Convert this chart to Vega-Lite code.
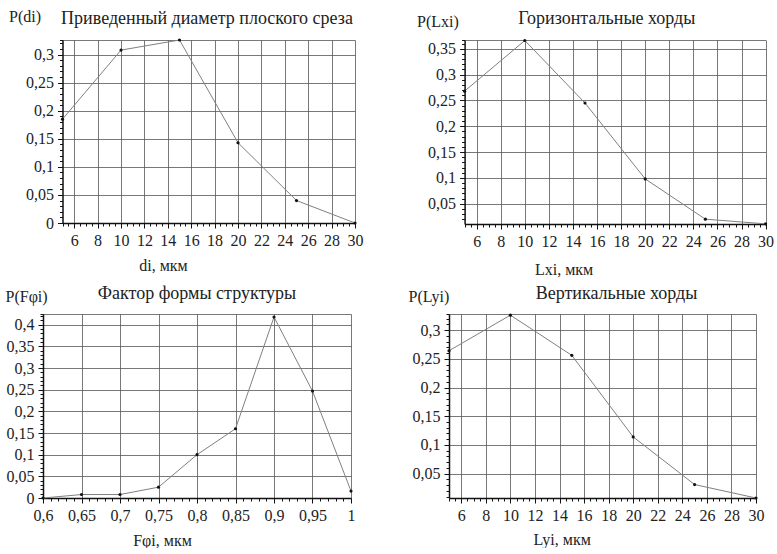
{
  "$schema": "https://vega.github.io/schema/vega-lite/v6.json",
  "background": "white",
  "padding": {"left": 5, "top": 8, "right": 0, "bottom": 0},
  "columns": 2,
  "align": "none",
  "spacing": {"row": 8, "column": 45},
  "datasets": {
    "d1": [{"x": 5, "p": 0.185}, {"x": 10, "p": 0.308}, {"x": 15, "p": 0.326}, {"x": 20, "p": 0.143}, {"x": 25, "p": 0.04}, {"x": 30, "p": 0}],
    "d2": [{"x": 5, "p": 0.268}, {"x": 10, "p": 0.366}, {"x": 15, "p": 0.245}, {"x": 20, "p": 0.098}, {"x": 25, "p": 0.02}, {"x": 30, "p": 0.011}],
    "d3": [{"x": 0.6, "p": 0}, {"x": 0.65, "p": 0.008}, {"x": 0.7, "p": 0.008}, {"x": 0.75, "p": 0.025}, {"x": 0.8, "p": 0.1}, {"x": 0.85, "p": 0.16}, {"x": 0.9, "p": 0.418}, {"x": 0.95, "p": 0.247}, {"x": 1, "p": 0.016}],
    "d4": [{"x": 5, "p": 0.264}, {"x": 10, "p": 0.326}, {"x": 15, "p": 0.256}, {"x": 20, "p": 0.114}, {"x": 25, "p": 0.031}, {"x": 30, "p": 0.0076}]
  },
  "concat": [
    {
      "width": 312, "height": 183,
      "data": {"name": "d1"},
      "title": {"text": "Приведенный диаметр плоского среза", "frame": "group", "offset": -20, "dx": 8},
      "encoding": {
        "x": {"field": "x", "type": "quantitative", "scale": {"domain": [5, 30], "range": [19.5, 312], "nice": false, "zero": false},
          "axis": {"title": "di, мкм", "titleX": 120, "titleY": 47, "titleBaseline": "alphabetic",
            "values": [5,5.5,6,6.5,7,7.5,8,8.5,9,9.5,10,10.5,11,11.5,12,12.5,13,13.5,14,14.5,15,15.5,16,16.5,17,17.5,18,18.5,19,19.5,20,20.5,21,21.5,22,22.5,23,23.5,24,24.5,25,25.5,26,26.5,27,27.5,28,28.5,29,29.5,30],
            "labelExpr": "datum.value % 2 == 0 ? format(datum.value, 'd') : ''",
            "gridOpacity": {"condition": {"test": "datum.value % 2 == 0", "value": 1}, "value": 0},
            "tickSize": {"condition": {"test": "datum.value % 2 == 0", "value": 5}, "value": 3}}},
        "y": {"field": "p", "type": "quantitative", "scale": {"domain": [0, 0.326], "nice": false, "zero": false},
          "axis": {"offset": -19.5, "title": "P(di)", "titleAngle": 0, "titleAlign": "left", "titleBaseline": "alphabetic", "titleX": -54, "titleY": -19,
            "values": [0,0.01,0.02,0.03,0.04,0.05,0.06,0.07,0.08,0.09,0.1,0.11,0.12,0.13,0.14,0.15,0.16,0.17,0.18,0.19,0.2,0.21,0.22,0.23,0.24,0.25,0.26,0.27,0.28,0.29,0.3,0.31,0.32,0.326],
            "labelExpr": "abs(datum.value*20 - round(datum.value*20)) < 0.001 ? replace(format(datum.value, '.2~f'), '.', ',') : ''",
            "gridOpacity": {"condition": {"test": "abs(datum.value*20 - round(datum.value*20)) < 0.001 || datum.value >= 0.326", "value": 1}, "value": 0},
            "tickSize": {"condition": {"test": "abs(datum.value*20 - round(datum.value*20)) < 0.001", "value": 5}, "value": 3}}}
      },
      "layer": [
        {"mark": {"type": "line", "color": "#808080", "strokeWidth": 1}},
        {"mark": {"type": "point", "filled": true, "color": "#111", "size": 10, "opacity": 1}}
      ]
    },
    {
      "width": 357.6, "height": 184,
      "data": {"name": "d2"},
      "title": {"text": "Горизонтальные хорды", "frame": "group", "offset": -15, "dx": 20},
      "encoding": {
        "x": {"field": "x", "type": "quantitative", "scale": {"domain": [5, 30], "range": [56.6, 357.6], "nice": false, "zero": false},
          "axis": {"title": "Lxi, мкм", "titleX": 155.6, "titleY": 50, "titleBaseline": "alphabetic",
            "values": [5,5.5,6,6.5,7,7.5,8,8.5,9,9.5,10,10.5,11,11.5,12,12.5,13,13.5,14,14.5,15,15.5,16,16.5,17,17.5,18,18.5,19,19.5,20,20.5,21,21.5,22,22.5,23,23.5,24,24.5,25,25.5,26,26.5,27,27.5,28,28.5,29,29.5,30],
            "labelExpr": "datum.value % 2 == 0 ? format(datum.value, 'd') : ''",
            "gridOpacity": {"condition": {"test": "datum.value % 2 == 0", "value": 1}, "value": 0},
            "tickSize": {"condition": {"test": "datum.value % 2 == 0", "value": 5}, "value": 3}}},
        "y": {"field": "p", "type": "quantitative", "scale": {"domain": [0.0107, 0.367], "nice": false, "zero": false},
          "axis": {"offset": -56.6, "title": "P(Lxi)", "titleAngle": 0, "titleAlign": "left", "titleBaseline": "alphabetic", "titleX": -48, "titleY": -14,
            "values": [0.02,0.03,0.04,0.05,0.06,0.07,0.08,0.09,0.1,0.11,0.12,0.13,0.14,0.15,0.16,0.17,0.18,0.19,0.2,0.21,0.22,0.23,0.24,0.25,0.26,0.27,0.28,0.29,0.3,0.31,0.32,0.33,0.34,0.35,0.36,0.367],
            "labelExpr": "abs(datum.value*20 - round(datum.value*20)) < 0.001 ? replace(format(datum.value, '.2~f'), '.', ',') : ''",
            "gridOpacity": {"condition": {"test": "abs(datum.value*20 - round(datum.value*20)) < 0.001 || datum.value >= 0.367", "value": 1}, "value": 0},
            "tickSize": {"condition": {"test": "abs(datum.value*20 - round(datum.value*20)) < 0.001", "value": 5}, "value": 3}}}
      },
      "layer": [
        {"mark": {"type": "line", "color": "#808080", "strokeWidth": 1}},
        {"mark": {"type": "point", "filled": true, "color": "#111", "size": 10, "opacity": 1}}
      ]
    },
    {
      "width": 308, "height": 184,
      "data": {"name": "d3"},
      "title": {"text": "Фактор формы структуры", "frame": "group", "offset": -15, "dx": 0},
      "encoding": {
        "x": {"field": "x", "type": "quantitative", "scale": {"domain": [0.6, 1], "nice": false, "zero": false},
          "axis": {"title": "Fφi, мкм", "titleX": 119, "titleY": 47, "titleBaseline": "alphabetic",
            "values": [0.6,0.61,0.62,0.63,0.64,0.65,0.66,0.67,0.68,0.69,0.7,0.71,0.72,0.73,0.74,0.75,0.76,0.77,0.78,0.79,0.8,0.81,0.82,0.83,0.84,0.85,0.86,0.87,0.88,0.89,0.9,0.91,0.92,0.93,0.94,0.95,0.96,0.97,0.98,0.99,1],
            "labelExpr": "abs(datum.value*20 - round(datum.value*20)) < 0.001 ? replace(format(datum.value, '.2~f'), '.', ',') : ''",
            "gridOpacity": {"condition": {"test": "abs(datum.value*20 - round(datum.value*20)) < 0.001", "value": 1}, "value": 0},
            "tickSize": {"condition": {"test": "abs(datum.value*20 - round(datum.value*20)) < 0.001", "value": 5}, "value": 3}}},
        "y": {"field": "p", "type": "quantitative", "scale": {"domain": [0, 0.425], "nice": false, "zero": false},
          "axis": {"title": "P(Fφi)", "titleAngle": 0, "titleAlign": "left", "titleBaseline": "alphabetic", "titleX": -38, "titleY": -13,
            "values": [0,0.01,0.02,0.03,0.04,0.05,0.06,0.07,0.08,0.09,0.1,0.11,0.12,0.13,0.14,0.15,0.16,0.17,0.18,0.19,0.2,0.21,0.22,0.23,0.24,0.25,0.26,0.27,0.28,0.29,0.3,0.31,0.32,0.33,0.34,0.35,0.36,0.37,0.38,0.39,0.4,0.41,0.42,0.425],
            "labelExpr": "abs(datum.value*20 - round(datum.value*20)) < 0.001 ? replace(format(datum.value, '.2~f'), '.', ',') : ''",
            "gridOpacity": {"condition": {"test": "abs(datum.value*20 - round(datum.value*20)) < 0.001 || datum.value >= 0.425", "value": 1}, "value": 0},
            "tickSize": {"condition": {"test": "abs(datum.value*20 - round(datum.value*20)) < 0.001", "value": 5}, "value": 3}}}
      },
      "layer": [
        {"mark": {"type": "line", "color": "#808080", "strokeWidth": 1}},
        {"mark": {"type": "point", "filled": true, "color": "#111", "size": 10, "opacity": 1}}
      ]
    },
    {
      "width": 307, "height": 184,
      "data": {"name": "d4"},
      "title": {"text": "Вертикальные хорды", "frame": "group", "offset": -15, "dx": 14},
      "encoding": {
        "x": {"field": "x", "type": "quantitative", "scale": {"domain": [5, 30], "nice": false, "zero": false},
          "axis": {"title": "Lyi, мкм", "titleX": 112.6, "titleY": 46, "titleBaseline": "alphabetic",
            "values": [5,5.5,6,6.5,7,7.5,8,8.5,9,9.5,10,10.5,11,11.5,12,12.5,13,13.5,14,14.5,15,15.5,16,16.5,17,17.5,18,18.5,19,19.5,20,20.5,21,21.5,22,22.5,23,23.5,24,24.5,25,25.5,26,26.5,27,27.5,28,28.5,29,29.5,30],
            "labelExpr": "datum.value % 2 == 0 ? format(datum.value, 'd') : ''",
            "gridOpacity": {"condition": {"test": "datum.value % 2 == 0", "value": 1}, "value": 0},
            "tickSize": {"condition": {"test": "datum.value % 2 == 0", "value": 5}, "value": 3}}},
        "y": {"field": "p", "type": "quantitative", "scale": {"domain": [0.0076, 0.328], "nice": false, "zero": false},
          "axis": {"title": "P(Lyi)", "titleAngle": 0, "titleAlign": "left", "titleBaseline": "alphabetic", "titleX": -41, "titleY": -13,
            "values": [0.01,0.02,0.03,0.04,0.05,0.06,0.07,0.08,0.09,0.1,0.11,0.12,0.13,0.14,0.15,0.16,0.17,0.18,0.19,0.2,0.21,0.22,0.23,0.24,0.25,0.26,0.27,0.28,0.29,0.3,0.31,0.32,0.328],
            "labelExpr": "abs(datum.value*20 - round(datum.value*20)) < 0.001 ? replace(format(datum.value, '.2~f'), '.', ',') : ''",
            "gridOpacity": {"condition": {"test": "abs(datum.value*20 - round(datum.value*20)) < 0.001 || datum.value >= 0.328", "value": 1}, "value": 0},
            "tickSize": {"condition": {"test": "abs(datum.value*20 - round(datum.value*20)) < 0.001", "value": 5}, "value": 3}}}
      },
      "layer": [
        {"mark": {"type": "line", "color": "#808080", "strokeWidth": 1}},
        {"mark": {"type": "point", "filled": true, "color": "#111", "size": 10, "opacity": 1}}
      ]
    }
  ],
  "config": {
    "font": "Liberation Serif",
    "axis": {"domainColor": "#111", "domainWidth": 1.5, "tickColor": "#111", "tickWidth": 1,
      "labelFont": "Liberation Serif", "labelFontSize": 16, "labelColor": "#222", "labelPadding": 4, "labelOverlap": false, "labelFlush": false,
      "titleFont": "Liberation Serif", "titleFontSize": 16, "titleFontWeight": "normal", "titleColor": "#222",
      "gridColor": "#555", "gridWidth": 0.8},
    "view": {"stroke": null},
    "title": {"font": "Liberation Serif", "fontSize": 18, "fontWeight": "normal", "color": "#222", "baseline": "alphabetic"}
  }
}
